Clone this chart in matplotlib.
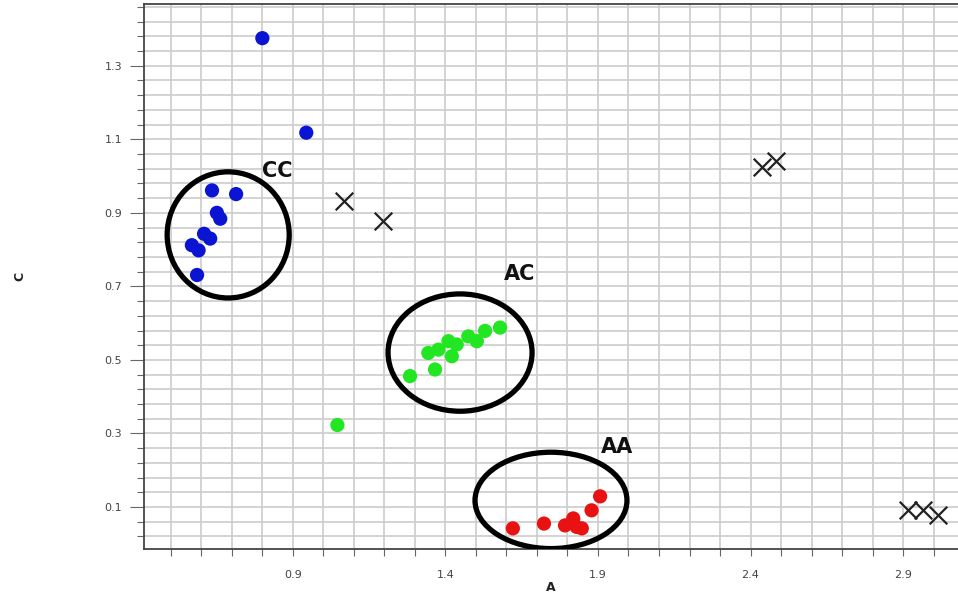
import matplotlib
matplotlib.use("Agg")
import matplotlib.pyplot as plt
from matplotlib.patches import Ellipse
from matplotlib.ticker import MultipleLocator, FixedLocator

# ---- data ----
cc_x = [0.800, 0.944, 0.635, 0.714, 0.651, 0.662, 0.609, 0.629, 0.569, 0.591, 0.586]
cc_y = [1.375, 1.118, 0.961, 0.951, 0.900, 0.884, 0.843, 0.830, 0.812, 0.798, 0.731]

ac_x = [1.046, 1.284, 1.366, 1.344, 1.377, 1.410, 1.421, 1.437, 1.503, 1.475, 1.530, 1.579]
ac_y = [0.323, 0.456, 0.474, 0.519, 0.528, 0.551, 0.510, 0.542, 0.551, 0.564, 0.579, 0.588]

aa_x = [1.621, 1.723, 1.792, 1.819, 1.830, 1.847, 1.879, 1.907]
aa_y = [0.042, 0.055, 0.050, 0.069, 0.046, 0.042, 0.091, 0.129]

other_x = [1.069, 1.196, 2.436, 2.485, 2.916, 2.966, 3.015]
other_y = [0.932, 0.878, 1.026, 1.040, 0.093, 0.093, 0.078]

cluster_names = ["CC", "AC", "AA"]
cluster_cx = [0.688, 1.448, 1.746]
cluster_cy = [0.840, 0.520, 0.118]
cluster_w = [0.40, 0.472, 0.498]
cluster_h = [0.343, 0.319, 0.262]
label_x = [0.849, 1.642, 1.963]
label_y = [1.015, 0.734, 0.264]

x_ticks = [0.9, 1.4, 1.9, 2.4, 2.9]
y_ticks = [0.1, 0.3, 0.5, 0.7, 0.9, 1.1, 1.3]
x_label = "A"
y_label = "C"

# ---- figure ----
fig = plt.figure(figsize=(9.58, 6.01), dpi=100)
ax = fig.add_axes([0.1506, 0.086, 0.8494, 0.9074])
ax.set_xlim(0.413, 3.08)
ax.set_ylim(-0.015, 1.468)

ax.xaxis.set_major_locator(FixedLocator(x_ticks))
ax.yaxis.set_major_locator(FixedLocator(y_ticks))
ax.xaxis.set_minor_locator(MultipleLocator(0.1))
ax.yaxis.set_minor_locator(MultipleLocator(0.04, offset=0.02))
ax.set_xticklabels([f"{v:.1f}" for v in x_ticks])
ax.set_yticklabels([f"{v:.1f}" for v in y_ticks])

ax.grid(True, which="both", color="#cccccc", linewidth=1.2, zorder=0)
ax.set_axisbelow(True)

ax.tick_params(axis="both", which="both", direction="out", colors="#666666",
               labelcolor="#444444", labelsize=8, width=0.8)
ax.tick_params(axis="y", which="major", length=10, pad=6)
ax.tick_params(axis="y", which="minor", length=5)
ax.tick_params(axis="x", which="major", length=5, pad=10)
ax.tick_params(axis="x", which="minor", length=5)

for s in ["left", "bottom", "top"]:
    ax.spines[s].set_color("#444444")
    ax.spines[s].set_linewidth(1.3)
ax.spines["right"].set_visible(False)

ax.set_xlabel(x_label, fontsize=9, fontweight="bold", color="#222222")
ax.xaxis.set_label_coords(0.5, -0.058)
ax.set_ylabel(y_label, fontsize=9, fontweight="bold", color="#222222")
ax.yaxis.set_label_coords(-0.145, 0.5)

ax.scatter(cc_x, cc_y, s=105, color="#0a14d2", edgecolors="none", zorder=3)
ax.scatter(ac_x, ac_y, s=105, color="#22e622", edgecolors="none", zorder=3)
ax.scatter(aa_x, aa_y, s=105, color="#e81212", edgecolors="none", zorder=3)
ax.scatter(other_x, other_y, s=160, marker="x", color="#222222", linewidths=1.6, zorder=3)

for cx, cy, w, h, name, lx, ly in zip(cluster_cx, cluster_cy, cluster_w, cluster_h,
                                       cluster_names, label_x, label_y):
    ax.add_patch(Ellipse((cx, cy), w, h, fill=False, edgecolor="black",
                         linewidth=3.8, zorder=4))
    ax.text(lx, ly, name, fontsize=15, fontweight="bold", color="#111111",
            ha="center", va="center", zorder=5)

fig.savefig("out.png", dpi=100)
